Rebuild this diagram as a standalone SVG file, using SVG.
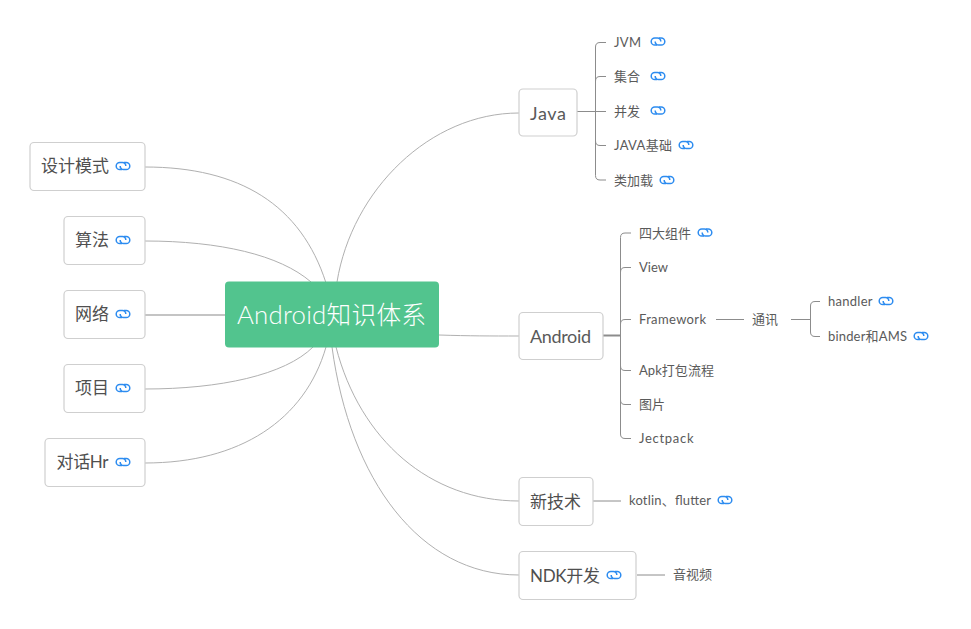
<svg xmlns="http://www.w3.org/2000/svg" xmlns:xlink="http://www.w3.org/1999/xlink" width="971" height="629" viewBox="0 0 971 629">
<style>
text{font-family:"Lato","Noto Sans CJK SC",sans-serif;fill:#4f4f4f}
.box{fill:#fff;stroke:#cfcfcf;stroke-width:1.200}
.m{font-size:17px;dominant-baseline:central}
.ml{font-size:18px;dominant-baseline:central;fill:#5a5a5a}
.s{font-size:13px;dominant-baseline:central;fill:#5a5a5a}
.c{fill:none;stroke:#b0b0b0;stroke-width:1}
.b{fill:none;stroke:#8c8c8c;stroke-width:1}
.l{fill:none;stroke:#2d8cf0;stroke-width:1.500}
</style>
<defs>
<g id="lk"><path class="l" d="M-1 3.600H-3.200A3.600 3.600 0 0 1-3.200-3.600H-.5A3.400 3.400 0 0 1 2.800 0"/><path class="l" d="M1-3.600H3.200A3.600 3.600 0 0 1 3.200 3.600H.5A3.400 3.400 0 0 1-2.800 0"/></g>
</defs>
<rect width="971" height="629" fill="#fff"/>
<g id="connectors">
<path class="c" d="M145 167C240 167 301 205 326 283"/>
<path class="c" d="M145 241C220 241 280 255 311 282"/>
<path class="c" d="M145 315H225" style="stroke-width:1.300"/>
<path class="c" d="M145 389C220 389 285 375 313 347"/>
<path class="c" d="M145 463C240 463 305 420 326 347"/>
<path class="c" d="M337 282C352 190 430 113 519 113"/>
<path class="c" d="M439 335C470 336 490 336 519 336"/>
<path class="c" d="M336 347C360 440 430 501 519 501"/>
<path class="c" d="M332 347C350 480 420 575 519 575"/>
<path class="b" d="M577 111.500H600"/>
<path class="b" d="M606 42.500H600Q595.500 42.500 595.500 47V175.500Q595.500 180 600 180H606M595.500 81Q595.500 76.500 600 76.500H606M595.500 111.500H606M595.500 141Q595.500 145.500 600 145.500H606"/>
<path class="b" d="M603 335.500H620" style="stroke-width:2"/>
<path class="b" d="M631 233H625Q620.500 233 620.500 237.500V434Q620.500 438.500 625 438.500H631M620.500 272Q620.500 267.500 625 267.500H631M620.500 324Q620.500 319.500 625 319.500H631M620.500 366Q620.500 370.500 625 370.500H631M620.500 400Q620.500 404.500 625 404.500H631"/>
<path class="b" d="M716 319.500H744M791 319.500H810"/>
<path class="b" d="M820 301.500H815Q810.500 301.500 810.500 306V332Q810.500 336.500 815 336.500H820"/>
<path class="b" d="M593 501H621M637 575H665"/>
</g>
<g id="root"><rect x="225" y="281.500" width="214" height="66" rx="4" fill="#52c48e"/><text x="237" y="314" dominant-baseline="central" font-weight="300" style="fill:#fff" textLength="189"><tspan font-size="25.800">Android</tspan><tspan font-size="24.700">知识体系</tspan></text></g>
<g id="n-sjms"><rect class="box" x="30" y="142.500" width="115" height="48" rx="4"/><text class="m" x="41" y="165.500">设计模式</text><use xlink:href="#lk" href="#lk" x="123" y="166"/></g>
<g id="n-sf"><rect class="box" x="64" y="216.500" width="81" height="48" rx="4"/><text class="m" x="75" y="239.500">算法</text><use xlink:href="#lk" href="#lk" x="123" y="240"/></g>
<g id="n-wl"><rect class="box" x="64" y="290.500" width="81" height="48" rx="4"/><text class="m" x="75" y="313.500">网络</text><use xlink:href="#lk" href="#lk" x="123" y="314"/></g>
<g id="n-xm"><rect class="box" x="64" y="364.500" width="81" height="48" rx="4"/><text class="m" x="75" y="387.500">项目</text><use xlink:href="#lk" href="#lk" x="123" y="388"/></g>
<g id="n-hr"><rect class="box" x="45" y="438.500" width="100" height="48" rx="4"/><text class="m" x="56.500" y="461.500" textLength="52">对话Hr</text><use xlink:href="#lk" href="#lk" x="123" y="462"/></g>
<g id="n-java"><rect class="box" x="519" y="89" width="58" height="47" rx="4"/><text class="ml" x="530" y="112.500" textLength="36">Java</text></g>
<g id="n-android"><rect class="box" x="519" y="312.500" width="84" height="47" rx="4"/><text class="ml" x="530" y="335.500" textLength="61">Android</text></g>
<g id="n-new"><rect class="box" x="519" y="477.500" width="74" height="48" rx="4"/><text class="m" x="530" y="501">新技术</text></g>
<g id="n-ndk"><rect class="box" x="519" y="551.500" width="117" height="48" rx="4"/><text class="m" x="530" y="575" textLength="70">NDK开发</text><use xlink:href="#lk" href="#lk" x="614" y="575"/></g>
<g id="n-jvm"><text class="s" x="614" y="42" textLength="27">JVM</text><use xlink:href="#lk" href="#lk" x="658" y="41.500"/></g>
<g id="n-jh"><text class="s" x="614" y="76">集合</text><use xlink:href="#lk" href="#lk" x="658" y="76"/></g>
<g id="n-bf"><text class="s" x="614" y="110.500">并发</text><use xlink:href="#lk" href="#lk" x="658" y="110.500"/></g>
<g id="n-jc"><text class="s" x="614" y="145" textLength="58">JAVA基础</text><use xlink:href="#lk" href="#lk" x="686" y="145"/></g>
<g id="n-ljz"><text class="s" x="614" y="180">类加载</text><use xlink:href="#lk" href="#lk" x="667" y="180"/></g>
<g id="n-sdzj"><text class="s" x="639" y="232.500">四大组件</text><use xlink:href="#lk" href="#lk" x="705" y="232.500"/></g>
<g id="n-view"><text class="s" x="639" y="267" textLength="29">View</text></g>
<g id="n-fw"><text class="s" x="639" y="319" textLength="67">Framework</text></g>
<g id="n-apk"><text class="s" x="639" y="370" textLength="75">Apk打包流程</text></g>
<g id="n-tp"><text class="s" x="639" y="404">图片</text></g>
<g id="n-jp"><text class="s" x="639" y="438" textLength="54.500">Jectpack</text></g>
<g id="n-tx"><text class="s" x="752" y="319">通讯</text></g>
<g id="n-handler"><text class="s" x="828" y="301" textLength="44.500">handler</text><use xlink:href="#lk" href="#lk" x="886" y="301"/></g>
<g id="n-binder"><text class="s" x="828" y="336" textLength="79">binder和AMS</text><use xlink:href="#lk" href="#lk" x="921" y="336"/></g>
<g id="n-kf"><text class="s" x="629" y="500" textLength="82">kotlin、flutter</text><use xlink:href="#lk" href="#lk" x="725" y="500"/></g>
<g id="n-ysp"><text class="s" x="673" y="574">音视频</text></g>
</svg>
